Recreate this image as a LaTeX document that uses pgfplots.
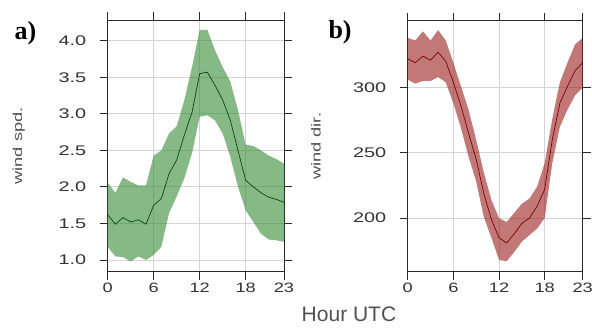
\documentclass[border=0pt]{standalone}
\usepackage{fontspec}
\setmainfont{Liberation Sans}
\newfontfamily\serifb{Liberation Serif}
\usepackage{pgfplots}
\usepackage{pgfplotstable}
\pgfplotsset{compat=1.18}
\usepgfplotslibrary{fillbetween}
\definecolor{bandgreen}{RGB}{55,138,55}
\definecolor{linegreen}{RGB}{10,70,10}
\definecolor{bandred}{RGB}{155,30,30}
\definecolor{linered}{RGB}{120,0,0}
\definecolor{tickgray}{RGB}{50,50,50}
\definecolor{labgray}{RGB}{80,80,80}
\definecolor{axcol}{RGB}{40,40,40}
\newcommand\tl[1]{\scalebox{1.42}[1]{#1}}
\newcommand\xl[1]{\scalebox{1.34}[1]{#1}}
\pgfplotstableread{
h mean lo hi
0 1.62 1.18 2.06
1 1.49 1.05 1.92
2 1.58 1.04 2.13
3 1.52 0.98 2.07
4 1.55 1.05 2.02
5 1.49 1.00 2.02
6 1.75 1.07 2.43
7 1.84 1.18 2.50
8 2.18 1.64 2.73
9 2.37 1.87 2.83
10 2.71 2.12 3.19
11 3.02 2.46 3.64
12 3.55 2.96 4.15
13 3.57 2.98 4.15
14 3.39 2.91 3.87
15 3.19 2.73 3.64
16 2.91 2.41 3.44
17 2.50 2.00 3.05
18 2.09 1.68 2.58
19 2.00 1.52 2.56
20 1.92 1.36 2.50
21 1.86 1.28 2.43
22 1.83 1.27 2.38
23 1.79 1.25 2.32
}\dataa
\pgfplotstableread{
h mean lo hi
0 322 306 338
1 319 303 336
2 324 305 343
3 321 305 336
4 327 308 344
5 320 304 336
6 304 288 319
7 286 269 301
8 265 247 283
9 245 228 260
10 219 201 235
11 199 185 214
12 185 168 200
13 181 167 197
14 188 174 204
15 196 182 211
16 200 187 215
17 209 192 224
18 222 200 242
19 260 242 276
20 288 270 304
21 301 283 319
22 313 294 333
23 319 300 338
}\datab
\pgfplotsset{
  common/.style={
    scale only axis,
    xmin=0, xmax=23,
    xtick={0,6,12,18,23},
    xticklabels={\xl{0},\xl{6},\xl{12},\xl{18},\xl{23}},
    tick align=outside,
    major tick length=8pt,
    axis line style={axcol, line width=0.9pt},
    tick style={axcol, line width=0.9pt},
    grid=major,
    major grid style={black!17, line width=0.9pt},
    ticklabel style={font=\fontsize{14}{16}\selectfont, text=tickgray},
    xticklabel style={font=\fontsize{13.6}{16}\selectfont},
    yticklabel style={xshift=-10pt},
    ylabel style={font=\fontsize{13}{15}\selectfont, text=labgray, anchor=center},
  }
}
\begin{document}
\begin{tikzpicture}
\begin{axis}[common,
  at={(107.7pt,55.3pt)}, anchor=south west,
  width=176.3pt, height=251.4pt,
  ymin=0.84, ymax=4.28,
  ytick={1,1.5,2,2.5,3,3.5,4},
  yticklabels={\tl{1.0},\tl{1.5},\tl{2.0},\tl{2.5},\tl{3.0},\tl{3.5},\tl{4.0}},
  ylabel={\scalebox{1.4}[1]{wind spd.}},
  ylabel style={at={(axis description cs:-0.505,0.5)}},
]
\addplot[name path=ahi, draw=none] table[x=h, y=hi] {\dataa};
\addplot[name path=alo, draw=none] table[x=h, y=lo] {\dataa};
\addplot[fill=bandgreen, fill opacity=0.6, draw=none] fill between[of=ahi and alo];
\addplot[linegreen, line width=0.7pt] table[x=h, y=mean] {\dataa};
\end{axis}
\begin{axis}[common,
  at={(407.7pt,55.3pt)}, anchor=south west,
  width=175pt, height=250.8pt,
  ymin=159, ymax=351,
  ytick={200,250,300},
  yticklabels={\tl{200},\tl{250},\tl{300}},
  ylabel={\scalebox{1.4}[1]{wind dir.}},
  ylabel style={at={(axis description cs:-0.524,0.5)}},
]
\addplot[name path=bhi, draw=none] table[x=h, y=hi] {\datab};
\addplot[name path=blo, draw=none] table[x=h, y=lo] {\datab};
\addplot[fill=bandred, fill opacity=0.6, draw=none] fill between[of=bhi and blo];
\addplot[linered, line width=0.7pt] table[x=h, y=mean] {\datab};
\end{axis}
\node[anchor=base, font=\fontsize{21}{24}\selectfont, text=labgray] at (349pt,5.3pt) {Hour UTC};
\node[anchor=base west, font=\serifb\bfseries\fontsize{26}{28}\selectfont] at (11pt,287pt) {a)};
\node[anchor=base west, font=\serifb\bfseries\fontsize{26}{28}\selectfont] at (325pt,288pt) {b)};
\pgfresetboundingbox
\useasboundingbox (0pt,0pt) rectangle (592pt,327pt);
\end{tikzpicture}
\end{document}
